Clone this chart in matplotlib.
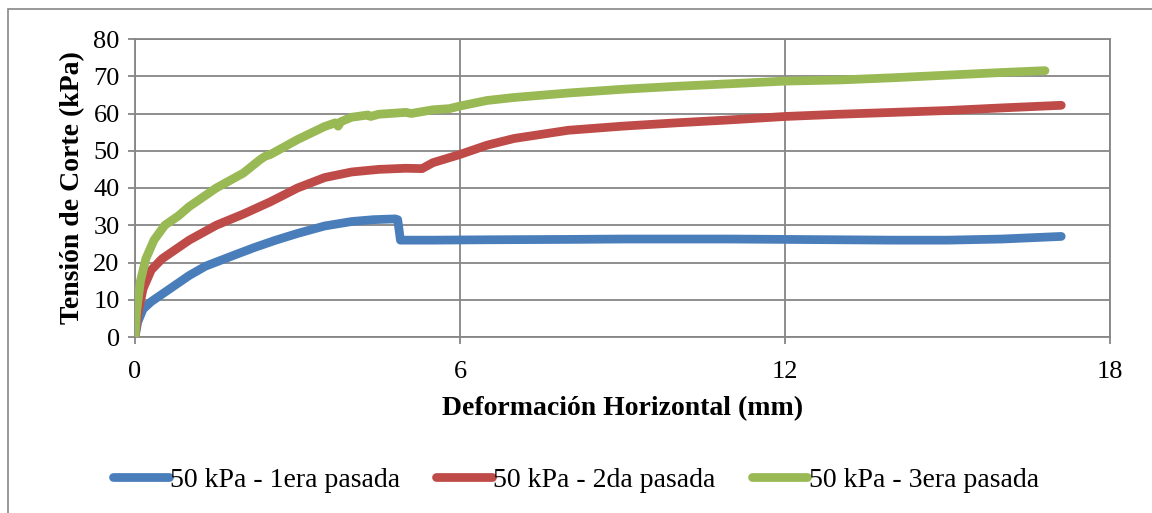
import matplotlib
matplotlib.use('Agg')
import matplotlib.pyplot as plt
from matplotlib.patches import Rectangle

# readings (mm, kPa)
x_1era = [0, 0.05, 0.15, 0.3, 0.6, 1.0, 1.3, 1.8, 2.2, 2.6, 3.0, 3.5, 4.0, 4.4, 4.8, 4.85, 4.9,
          5.5, 6.5, 8, 9, 10, 11, 12, 13, 14, 15, 16, 17.1]
y_1era = [0, 4, 7.5, 9.5, 12.5, 16.5, 19, 21.8, 24, 26, 27.8, 29.8, 31.0, 31.5, 31.7, 31.5, 26.0,
          26.0, 26.1, 26.2, 26.3, 26.3, 26.3, 26.2, 26.1, 26.0, 26.0, 26.3, 27.0]

x_2da = [0, 0.05, 0.15, 0.3, 0.5, 0.8, 1.0, 1.5, 2.0, 2.5, 3.0, 3.5, 4.0, 4.5, 5.0, 5.3, 5.5,
         6.0, 6.5, 7.0, 8, 9, 10, 11, 12, 13, 14, 15, 16, 17.1]
y_2da = [0, 6, 13, 18, 21, 24, 26, 30, 33, 36.3, 40, 42.8, 44.3, 45.0, 45.3, 45.2, 46.8,
         49, 51.5, 53.3, 55.5, 56.6, 57.5, 58.3, 59.2, 59.8, 60.3, 60.8, 61.5, 62.2]

x_3era = [0, 0.03, 0.1, 0.2, 0.35, 0.55, 0.8, 1.0, 1.5, 2.0, 2.3, 2.4, 2.5, 3.0, 3.5, 3.7, 3.75, 3.8,
          4.0, 4.3, 4.35, 4.5, 5.0, 5.1, 5.5, 5.8, 6.0, 6.5, 7.0, 8, 9, 10, 11, 12, 13, 14, 15, 16, 16.8]
y_3era = [0, 7, 15, 21, 26, 30, 32.5, 35, 40, 44, 47.5, 48.5, 49, 53, 56.5, 57.5, 56.6, 57.8,
          59, 59.6, 59.2, 59.8, 60.3, 60.0, 61, 61.3, 62, 63.5, 64.3, 65.5, 66.5, 67.3, 68, 68.7, 69, 69.6, 70.3, 71, 71.5]

labels = ['50 kPa - 1era pasada', '50 kPa - 2da pasada', '50 kPa - 3era pasada']
colors = ['#4A7EBB', '#BE4B48', '#98B954']

plt.rcParams['font.family'] = ['Liberation Serif', 'DejaVu Serif']

fig = plt.figure(figsize=(11.52, 5.13), dpi=100)
fig.patches.append(Rectangle((8 / 1152, -0.1), 1.2, 1 - 9 / 513 + 0.1, transform=fig.transFigure,
                             fill=False, edgecolor='#868686', linewidth=1.2))
ax = fig.add_axes([135 / 1152, 1 - 337 / 513, (1110 - 135) / 1152, (337 - 39) / 513])

for xs, ys, lab, c in zip([x_1era, x_2da, x_3era], [y_1era, y_2da, y_3era], labels, colors):
    ax.plot(xs, ys, color=c, lw=6.3, label=lab, solid_capstyle='round', solid_joinstyle='round', zorder=3)

ax.set_xlim(0, 18)
ax.set_ylim(0, 80)
ax.set_xticks([0, 6, 12, 18])
ax.set_yticks(range(0, 81, 10))
ax.grid(True, color='#868686', lw=1.3)
for s in ax.spines.values():
    s.set_color('#868686')
    s.set_linewidth(1.3)
ax.tick_params(axis='both', colors='#868686', labelcolor='black', labelsize=19, length=5, width=1.3)
ax.tick_params(axis='x', pad=12)
ax.tick_params(axis='y', pad=6)

ax.set_xlabel('Deformación Horizontal (mm)', fontsize=20, fontweight='bold', labelpad=10)
ax.set_ylabel('Tensión de Corte (kPa)', fontsize=20, fontweight='bold', labelpad=6)

leg = fig.legend(loc='center', bbox_to_anchor=(0.5, 1 - 480 / 513), ncol=3, frameon=False,
                 fontsize=20, handlelength=2.0, columnspacing=1.3, handletextpad=0.05)
for h in leg.get_lines():
    h.set_solid_capstyle('round')

fig.savefig('out.png', dpi=100)
plt.close(fig)
